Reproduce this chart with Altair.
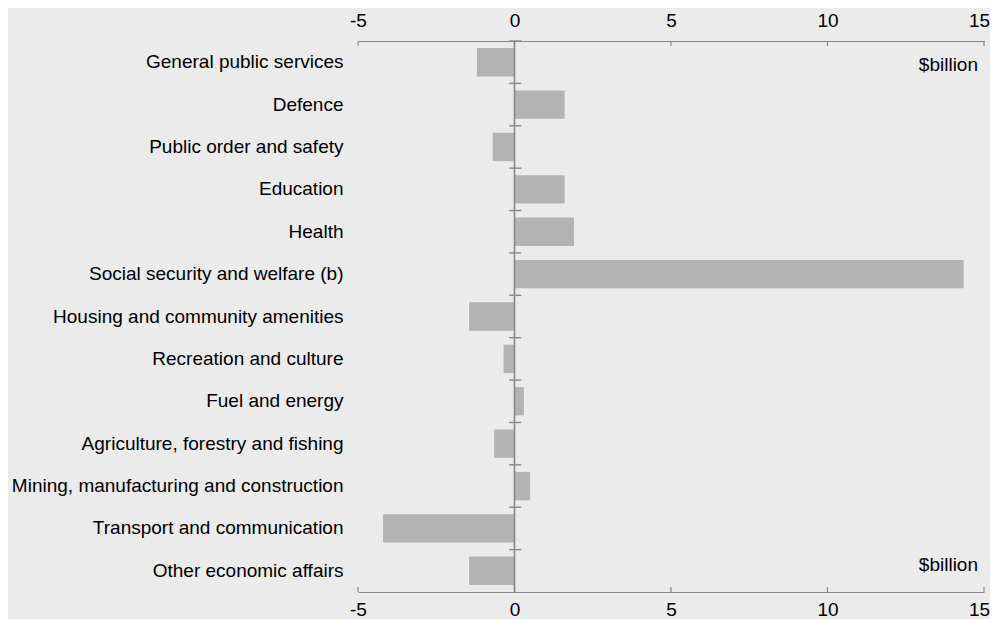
import altair as alt
import pandas as pd

categories = [
    "General public services",
    "Defence",
    "Public order and safety",
    "Education",
    "Health",
    "Social security and welfare (b)",
    "Housing and community amenities",
    "Recreation and culture",
    "Fuel and energy",
    "Agriculture, forestry and fishing",
    "Mining, manufacturing and construction",
    "Transport and communication",
    "Other economic affairs",
]
values = [-1.2, 1.6, -0.7, 1.6, 1.9, 14.35, -1.45, -0.35, 0.3, -0.65, 0.5, -4.2, -1.45]
tick_values = [-5, 0, 5, 10, 15]
unit_label = "$billion"

W, H = 626, 551
BG = "#EBEBEB"
BAR = "#B3B3B3"
AX = "#888888"
FONT = "Liberation Sans"
FS = 19

df = pd.DataFrame({"category": categories, "value": values})
df_ticks = pd.DataFrame({"tick": tick_values})
df_zero = pd.DataFrame({"zero": [0]})
df_top = pd.DataFrame({"category": [categories[0]], "label": [unit_label]})
df_bot = pd.DataFrame({"category": [categories[-1]], "label": [unit_label]})

xscale = alt.Scale(domain=[-5, 15], nice=False, zero=False)
yscale = alt.Scale(domain=categories, paddingInner=0, paddingOuter=0)

label_expr = "'' + datum.value"
last_label_offset = {"condition": {"test": "datum.value == 15", "value": -5}, "value": 0}

top_axis = alt.Axis(
    orient="top", values=tick_values, title=None, grid=False, ticks=False, tickSize=0,
    domain=True, domainColor=AX, domainWidth=1.2, labelPadding=11, labelFlush=False,
    labelFont=FONT, labelFontSize=FS, labelColor="#000000", labelExpr=label_expr,
    labelOffset=last_label_offset,
)
bottom_axis = alt.Axis(
    orient="bottom", values=tick_values, title=None, grid=False, ticks=False, tickSize=0,
    domain=True, domainColor=AX, domainWidth=1.2, labelPadding=8, labelFlush=False,
    labelFont=FONT, labelFontSize=FS, labelColor="#000000", labelExpr=label_expr,
    labelOffset=last_label_offset,
)
y_axis = alt.Axis(
    orient="left", title=None, ticks=False, tickSize=0, domain=False, grid=False,
    labelPadding=15, labelFont=FONT, labelFontSize=FS, labelColor="#000000",
    labelLimit=400,
)

bars = alt.Chart(df).mark_bar(color=BAR, height=alt.RelativeBandSize(0.67)).encode(
    x=alt.X("value:Q", scale=xscale, axis=top_axis),
    y=alt.Y("category:N", scale=yscale, axis=y_axis, title=None),
)

bottom_layer = alt.Chart(df_ticks).mark_rule(color=AX, strokeWidth=1.2).encode(
    x=alt.X("tick:Q", scale=xscale, axis=bottom_axis),
    y=alt.value(H),
    y2=alt.value(H - 5),
)

top_ticks = alt.Chart(df_ticks).mark_rule(color=AX, strokeWidth=1.2).encode(
    x=alt.X("tick:Q", scale=xscale, axis=None),
    y=alt.value(0),
    y2=alt.value(5),
)

zero_line = alt.Chart(df_zero).mark_rule(color=AX, strokeWidth=1.6).encode(
    x=alt.X("zero:Q", scale=xscale, axis=None),
    y=alt.value(0),
    y2=alt.value(H),
)

y_ticks = alt.Chart(df).mark_rule(color=AX, strokeWidth=1.4).encode(
    y=alt.Y("category:N", scale=yscale, bandPosition=0, title=None),
    x=alt.XDatum(-0.17, scale=xscale, axis=None),
    x2=alt.X2Datum(0.22),
)

text_style = dict(align="right", baseline="middle", font=FONT, fontSize=FS, color="#000000", dx=-6)

top_text = alt.Chart(df_top).mark_text(dy=3, **text_style).encode(
    x=alt.XDatum(15, scale=xscale, axis=None),
    y=alt.Y("category:N", scale=yscale, title=None),
    text="label:N",
)
bot_text = alt.Chart(df_bot).mark_text(dy=-6, **text_style).encode(
    x=alt.XDatum(15, scale=xscale, axis=None),
    y=alt.Y("category:N", scale=yscale, title=None),
    text="label:N",
)

chart = alt.layer(
    bars, zero_line, y_ticks, top_ticks, bottom_layer, top_text, bot_text
).resolve_axis(
    x="independent"
).properties(
    width=W,
    height=H,
    background=BG,
    autosize=alt.AutoSizeParams(type="none"),
    padding={"left": 350, "top": 33, "right": 6, "bottom": 27},
).configure_view(
    stroke=None
)

chart.save("out.html", embed_options={"renderer": "svg", "actions": False})
